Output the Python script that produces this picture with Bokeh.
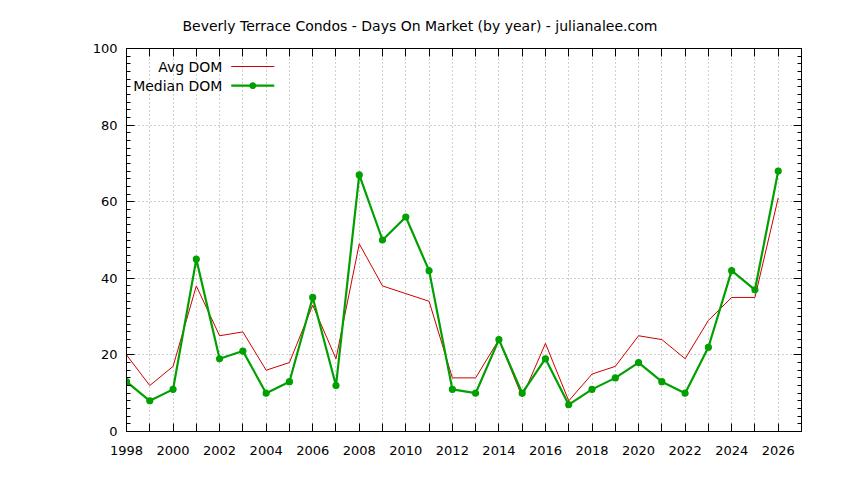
from bokeh.plotting import figure
from bokeh.models import (Range1d, LinearAxis, FixedTicker, SingleIntervalTicker,
                          CustomJSTickFormatter, Label, ColumnDataSource, Grid)
from bokeh.embed import file_html
from bokeh.resources import INLINE

years = list(range(1998, 2027))
avg_dom = [20, 12, 17, 38, 25, 26, 16, 18, 33, 19, 49, 38, 36, 34, 14, 14, 24, 9,
           23, 8, 15, 17, 25, 24, 19, 29, 35, 35, 61]
median_dom = [13, 8, 11, 45, 19, 21, 10, 13, 35, 12, 67, 50, 56, 42, 11, 10, 24, 10,
              19, 7, 11, 14, 18, 13, 10, 22, 42, 37, 68]
x_ticks = list(range(1998, 2028))
title_text = "Beverly Terrace Condos - Days On Market (by year) - julianalee.com"
series_names = ["Avg DOM", "Median DOM"]

FONT = "DejaVu Sans"
FSIZE = "13px"
TSIZE = "14px"
RED = "#cc0000"
GREEN = "#00a000"

src = ColumnDataSource(data=dict(year=years, avg=avg_dom, med=median_dom))

p = figure(width=828, height=464, output_backend="svg", toolbar_location=None,
           x_range=Range1d(1998, 2027), y_range=Range1d(0, 100),
           min_border_left=126, min_border_right=27, min_border_top=48,
           min_border_bottom=33, x_axis_type=None, y_axis_type=None)

p.title.text = title_text
p.title.text_font = FONT
p.title.text_font_size = TSIZE
p.title.text_font_style = "normal"
p.title.text_color = "black"
p.title.align = "left"
p.title.offset = 56
p.title.standoff = 30

p.outline_line_color = "black"
p.outline_line_width = 1
p.background_fill_color = "white"
p.border_fill_color = "white"

xtick = FixedTicker(ticks=x_ticks, minor_ticks=[])
ytick = SingleIntervalTicker(interval=20, num_minor_ticks=10)
blank = CustomJSTickFormatter(code="return ''")


def style_axis(ax, labels=True):
    ax.axis_line_color = "black"
    ax.major_tick_in = 8
    ax.major_tick_out = 0
    ax.minor_tick_in = 4
    ax.minor_tick_out = 0
    ax.major_tick_line_color = "black"
    ax.minor_tick_line_color = "black"
    ax.major_label_text_font = FONT
    ax.major_label_text_font_size = FSIZE
    ax.major_label_text_color = "black"
    if not labels:
        ax.formatter = blank
        ax.major_label_text_font_size = "1px"
        ax.major_label_standoff = 0


bottom = LinearAxis(ticker=xtick)
bottom.major_label_overrides = {y: ("" if y % 2 else str(y)) for y in x_ticks}
bottom.major_label_standoff = 14
style_axis(bottom)
p.add_layout(bottom, "below")

top = LinearAxis(ticker=xtick)
style_axis(top, labels=False)
p.add_layout(top, "above")

left = LinearAxis(ticker=ytick)
left.major_label_standoff = 9
style_axis(left)
p.add_layout(left, "left")

right = LinearAxis(ticker=ytick)
style_axis(right, labels=False)
p.add_layout(right, "right")

for dim, tk in ((0, xtick), (1, ytick)):
    g = Grid(dimension=dim, ticker=tk, grid_line_color="#a0a0a0",
             grid_line_dash="1 3", grid_line_width=1)
    p.add_layout(g, "center")

p.line("year", "avg", source=src, line_color=RED, line_width=1)
p.line("year", "med", source=src, line_color=GREEN, line_width=2.2)
p.scatter("year", "med", source=src, marker="circle", size=6,
          fill_color=GREEN, line_color=GREEN, line_width=1.2)

# key (gnuplot style: label right-aligned, sample to its right)
key_x_text = 2002.12
key_x0, key_x1 = 2002.5, 2004.35
key_y = [95.3, 90.3]
for name, yy in zip(series_names, key_y):
    p.add_layout(Label(x=key_x_text, y=yy, text=name, text_align="right",
                       text_baseline="middle", text_font=FONT,
                       text_font_size=TSIZE, text_color="black"))
p.line([key_x0, key_x1], [key_y[0], key_y[0]], line_color=RED, line_width=1)
p.line([key_x0, key_x1], [key_y[1], key_y[1]], line_color=GREEN, line_width=2.2)
p.scatter([(key_x0 + key_x1) / 2], [key_y[1]], marker="circle", size=6,
          fill_color=GREEN, line_color=GREEN)

open("out.html", "w").write(file_html(p, INLINE))
